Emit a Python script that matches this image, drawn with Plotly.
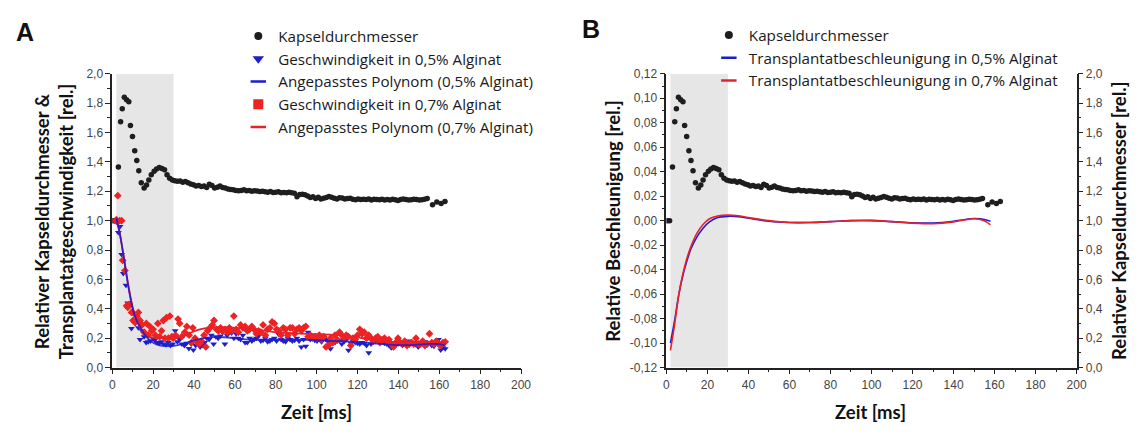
import plotly.graph_objects as go

W, H = 1141, 435

# ---------------- data ----------------
# Kapseldurchmesser (relative capsule diameter)
t_kapsel = [0.5, 1.6, 3.0, 4.1, 4.9, 5.9, 7.0, 8.1, 8.9, 9.9, 11.0, 12.0, 13.0, 14.2, 15.6, 16.8, 17.9, 19.1,
            20.5, 21.7, 23.0, 24.3, 25.6, 26.8, 28.1, 29.4, 30.6, 31.9, 33.2, 34.5, 35.8, 37.1, 38.4, 39.7,
            41.0, 42.3, 43.6, 44.9, 46.2, 47.5, 48.8, 50.1, 51.4, 52.7, 54.0, 55.3, 56.6, 57.9, 59.2, 60.5,
            61.8, 63.1, 64.4, 65.7, 67.0, 68.3, 69.6, 70.9, 72.2, 73.5, 74.8, 76.1, 77.4, 78.7, 80.0, 81.3,
            82.6, 83.9, 85.2, 86.5, 87.8, 89.1, 90.4, 91.7, 93.0, 94.3, 95.6, 96.9, 98.2, 99.5, 100.8, 102.1,
            103.4, 104.7, 106.0, 107.3, 108.6, 109.9, 111.2, 112.5, 113.8, 115.1, 116.4, 117.7, 119.0, 120.3,
            121.6, 122.9, 124.2, 125.5, 126.8, 128.1, 129.4, 130.7, 132.0, 133.3, 134.6, 135.9, 137.2, 138.5,
            139.8, 141.1, 142.4, 143.7, 145.0, 146.3, 147.6, 148.9, 150.2, 151.5, 152.8, 154.1, 156.7, 158.8,
            160.9, 162.8]
d_kapsel = [1.00, 1.00, 1.366, 1.674, 1.762, 1.84, 1.824, 1.81, 1.648, 1.573, 1.476, 1.41, 1.34, 1.258, 1.222,
            1.242, 1.277, 1.312, 1.336, 1.352, 1.362, 1.355, 1.347, 1.312, 1.289, 1.277, 1.272, 1.268, 1.27,
            1.262, 1.266, 1.258, 1.25, 1.244, 1.236, 1.24, 1.232, 1.236, 1.226, 1.248, 1.24, 1.222, 1.228,
            1.236, 1.226, 1.222, 1.216, 1.212, 1.21, 1.206, 1.204, 1.206, 1.21, 1.204, 1.206, 1.2, 1.204,
            1.202, 1.198, 1.2, 1.196, 1.194, 1.198, 1.192, 1.194, 1.196, 1.19, 1.192, 1.19, 1.194, 1.19,
            1.186, 1.162, 1.178, 1.18, 1.176, 1.168, 1.158, 1.162, 1.15, 1.16, 1.148, 1.152, 1.158, 1.164,
            1.16, 1.152, 1.148, 1.156, 1.154, 1.148, 1.15, 1.152, 1.146, 1.142, 1.148, 1.144, 1.146, 1.144,
            1.148, 1.14, 1.146, 1.144, 1.142, 1.146, 1.14, 1.144, 1.14, 1.146, 1.142, 1.138, 1.144, 1.148,
            1.144, 1.14, 1.142, 1.146, 1.144, 1.14, 1.142, 1.146, 1.15, 1.108, 1.127, 1.116, 1.13]

# Geschwindigkeit in 0,5% Alginat
t_v05 = [1.0, 2.2, 3.0, 3.8, 4.6, 5.4, 6.7, 7.6, 8.6, 9.4, 10.2, 11.2, 12.0, 12.8, 13.6, 14.6, 15.6, 16.6,
         17.6, 18.7, 19.8, 20.8, 21.9, 23.0, 24.1, 25.2, 26.3, 27.4, 28.5, 29.6, 30.8, 31.9, 33.0, 34.1, 35.3,
         36.4, 37.5, 38.6, 39.7, 40.8, 41.9, 43.0, 44.1, 45.2, 46.3, 47.4, 48.5, 49.6, 50.7, 51.8, 52.9, 54.0,
         55.1, 56.2, 57.3, 58.4, 59.5, 60.6, 61.7, 62.8, 63.9, 65.0, 66.1, 67.2, 68.3, 69.4, 70.5, 71.6, 72.7,
         73.8, 74.9, 76.0, 77.1, 78.2, 79.3, 80.4, 81.5, 82.6, 83.7, 84.8, 85.9, 87.0, 88.1, 89.2, 90.3, 91.4,
         92.5, 93.6, 94.7, 95.8, 96.9, 98.0, 99.1, 100.2, 101.3, 102.4, 103.5, 104.6, 105.7, 106.8, 107.9,
         109.0, 110.1, 111.2, 112.3, 113.4, 114.5, 115.6, 116.7, 117.8, 118.9, 120.0, 121.1, 122.2, 123.3,
         124.4, 125.5, 126.6, 127.7, 128.8, 129.9, 131.0, 132.1, 133.2, 134.3, 135.4, 136.5, 137.6, 138.7,
         139.8, 140.9, 142.0, 143.1, 144.2, 145.3, 146.4, 147.5, 148.6, 149.7, 150.8, 151.9, 153.0, 154.1,
         155.2, 156.3, 157.4, 158.5, 159.6, 160.7, 161.8, 162.9]
v_v05 = [1.0, 0.99, 0.92, 0.96, 0.77, 0.64, 0.56, 0.44, 0.42, 0.265, 0.37, 0.30, 0.32, 0.27, 0.19, 0.25, 0.21,
         0.17, 0.175, 0.18, 0.20, 0.185, 0.17, 0.165, 0.175, 0.16, 0.155, 0.17, 0.15, 0.16, 0.25, 0.175, 0.19,
         0.16, 0.15, 0.165, 0.13, 0.16, 0.12, 0.15, 0.175, 0.14, 0.15, 0.17, 0.20, 0.19, 0.22, 0.16, 0.21, 0.20,
         0.215, 0.24, 0.16, 0.22, 0.24, 0.235, 0.20, 0.23, 0.20, 0.19, 0.22, 0.17, 0.17, 0.20, 0.18, 0.19, 0.20,
         0.215, 0.18, 0.185, 0.20, 0.175, 0.18, 0.19, 0.20, 0.18, 0.225, 0.19, 0.18, 0.175, 0.20, 0.19, 0.18,
         0.185, 0.20, 0.18, 0.14, 0.19, 0.145, 0.24, 0.19, 0.20, 0.185, 0.18, 0.19, 0.175, 0.20, 0.19, 0.175,
         0.127, 0.165, 0.17, 0.18, 0.185, 0.16, 0.175, 0.19, 0.117, 0.165, 0.18, 0.17, 0.165, 0.16, 0.17,
         0.165, 0.15, 0.10, 0.16, 0.175, 0.18, 0.19, 0.195, 0.175, 0.165, 0.16, 0.15, 0.135, 0.14, 0.155, 0.16,
         0.165, 0.15, 0.165, 0.175, 0.18, 0.165, 0.17, 0.155, 0.14, 0.16, 0.17, 0.175, 0.165, 0.17, 0.15,
         0.145, 0.17, 0.19, 0.119, 0.135, 0.127]

# Geschwindigkeit in 0,7% Alginat
t_v07 = [1.5, 2.2, 2.7, 3.6, 4.6, 5.1, 6.2, 7.0, 7.6, 8.3, 9.4, 10.2, 11.2, 12.0, 12.8, 13.6, 14.6, 15.6, 16.7,
         17.6, 18.4, 19.3, 20.0, 21.1, 22.3, 23.2, 24.1, 25.0, 25.8, 26.6, 27.5, 28.2, 29.2, 29.8, 31.0, 32.2,
         33.0, 34.0, 35.5, 36.5, 37.6, 38.7, 39.4, 40.5, 41.6, 42.7, 43.6, 44.9, 45.8, 46.7, 47.8, 49.0, 49.8,
         51.0, 52.0, 53.0, 54.0, 55.2, 56.3, 57.3, 58.4, 59.5, 60.6, 61.7, 62.8, 63.9, 65.0, 66.1, 67.2, 68.3,
         69.4, 70.5, 71.6, 72.7, 73.8, 74.9, 76.0, 77.1, 78.2, 79.3, 80.4, 81.5, 82.6, 83.7, 84.8, 85.9, 87.0,
         88.1, 89.2, 90.3, 91.4, 92.5, 93.6, 94.7, 95.8, 96.9, 98.0, 99.1, 100.2, 101.3, 102.4, 103.5, 104.6,
         105.7, 106.8, 107.9, 109.0, 110.1, 111.2, 112.3, 113.4, 114.5, 115.6, 116.7, 117.8, 118.9, 120.0,
         121.1, 122.2, 123.3, 124.4, 125.5, 126.6, 127.7, 128.8, 129.9, 131.0, 132.1, 133.2, 134.3, 135.4,
         136.5, 137.6, 138.7, 139.8, 140.9, 142.0, 143.1, 144.2, 145.3, 146.4, 147.5, 148.6, 149.7, 150.8,
         151.9, 153.0, 154.1, 155.2, 156.3, 157.4, 158.5, 159.6, 160.7, 161.8, 162.9]
v_v07 = [1.0, 1.0, 1.17, 1.0, 1.0, 0.73, 0.66, 0.42, 0.41, 0.43, 0.375, 0.32, 0.31, 0.35, 0.375, 0.32, 0.29,
         0.24, 0.30, 0.22, 0.28, 0.25, 0.26, 0.22, 0.30, 0.21, 0.25, 0.32, 0.20, 0.34, 0.20, 0.35, 0.21, 0.20,
         0.22, 0.33, 0.30, 0.21, 0.24, 0.28, 0.22, 0.17, 0.27, 0.20, 0.17, 0.16, 0.18, 0.22, 0.14, 0.25, 0.27,
         0.29, 0.32, 0.26, 0.25, 0.27, 0.25, 0.26, 0.24, 0.27, 0.25, 0.35, 0.26, 0.24, 0.29, 0.27, 0.28, 0.25,
         0.26, 0.28, 0.26, 0.23, 0.25, 0.24, 0.29, 0.22, 0.26, 0.27, 0.31, 0.30, 0.26, 0.25, 0.22, 0.27, 0.26,
         0.22, 0.27, 0.27, 0.23, 0.26, 0.27, 0.25, 0.27, 0.28, 0.21, 0.22, 0.20, 0.21, 0.20, 0.22, 0.19, 0.21,
         0.14, 0.15, 0.20, 0.17, 0.22, 0.19, 0.24, 0.22, 0.20, 0.22, 0.21, 0.15, 0.20, 0.19, 0.22, 0.26, 0.23,
         0.24, 0.20, 0.22, 0.20, 0.18, 0.20, 0.21, 0.17, 0.19, 0.20, 0.18, 0.19, 0.16, 0.14, 0.17, 0.20, 0.17,
         0.16, 0.18, 0.15, 0.16, 0.17, 0.16, 0.20, 0.16, 0.16, 0.18, 0.15, 0.16, 0.23, 0.17, 0.16, 0.18, 0.16,
         0.15, 0.17, 0.175]

# Angepasstes Polynom (fit curves, read at knots)
t_fit05 = [2, 4, 6, 8, 10, 12, 14, 16, 19, 22, 26, 30, 35, 40, 45, 50, 55, 60, 65, 70, 80, 90, 100, 110, 120,
           130, 140, 145, 150, 155, 160, 163]
p_fit05 = [1.02, 0.89, 0.72, 0.54, 0.40, 0.32, 0.268, 0.222, 0.178, 0.156, 0.146, 0.147, 0.162, 0.185, 0.200,
           0.207, 0.206, 0.199, 0.192, 0.189, 0.189, 0.189, 0.186, 0.180, 0.173, 0.162, 0.152, 0.152, 0.156,
           0.161, 0.159, 0.150]
t_fit07 = [2, 4, 6, 8, 10, 12, 14, 16, 19, 22, 26, 30, 34, 38, 42, 46, 50, 55, 60, 65, 70, 80, 90, 100, 110,
           115, 120, 127, 133, 140, 150, 157, 163]
p_fit07 = [1.03, 0.89, 0.72, 0.55, 0.41, 0.32, 0.26, 0.225, 0.205, 0.200, 0.200, 0.200, 0.210, 0.235, 0.256,
           0.268, 0.273, 0.274, 0.270, 0.265, 0.260, 0.240, 0.232, 0.228, 0.222, 0.216, 0.205, 0.189, 0.178,
           0.172, 0.172, 0.172, 0.165]

# Transplantatbeschleunigung (panel B)
t_acc = [2, 4, 6, 8, 10, 12, 15, 18, 21, 25, 30, 35, 40, 50, 60, 70, 80, 90, 100, 110, 120, 130, 140, 145,
         150, 153, 156, 158]
a_acc05 = [-0.100, -0.082, -0.061, -0.045, -0.033, -0.023, -0.013, -0.006, -0.001, 0.0025, 0.0035, 0.0032,
           0.002, -0.0005, -0.0015, -0.0015, -0.0008, 0.000, 0.000, -0.0008, -0.0018, -0.0020, -0.0005, 0.0008,
           0.0018, 0.0015, 0.0005, -0.0005]
a_acc07 = [-0.106, -0.085, -0.061, -0.044, -0.031, -0.021, -0.010, -0.003, 0.0015, 0.0038, 0.0045, 0.004,
           0.0025, 0.000, -0.0015, -0.0015, -0.0008, 0.000, 0.0002, -0.0008, -0.0020, -0.0025, -0.0010, 0.0005,
           0.0015, 0.0010, -0.0010, -0.0035]

shade_range = [2, 30]
x_ticks = [0, 20, 40, 60, 80, 100, 120, 140, 160, 180, 200]
yA_ticks = [0.0, 0.2, 0.4, 0.6, 0.8, 1.0, 1.2, 1.4, 1.6, 1.8, 2.0]
yB_ticks = [-0.12, -0.10, -0.08, -0.06, -0.04, -0.02, 0.0, 0.02, 0.04, 0.06, 0.08, 0.10, 0.12]

# ---------------- styling ----------------
BLACK = "#1e1e1e"
BLUE_M = "#1f1fc8"
RED_M = "#ee2222"
BLUE_L = "#1c1cd0"
RED_L = "#e8202a"
TXT = "Lato"
LEGF = dict(family="Open Sans", size=15.2, color="#1a1a1a")
TICKF = dict(family="Liberation Sans, Arial", size=12, color="#444444")


def comma(vals, nd):
    return [f"{v:.{nd}f}".replace(".", ",") for v in vals]


fig = go.Figure()

# Panel A data
fig.add_trace(go.Scatter(x=t_kapsel, y=d_kapsel, mode="markers", xaxis="x", yaxis="y", showlegend=False,
                         marker=dict(symbol="circle", size=5.5, color=BLACK)))
fig.add_trace(go.Scatter(x=t_v05, y=v_v05, mode="markers", xaxis="x", yaxis="y", showlegend=False,
                         marker=dict(symbol="triangle-down", size=6, color=BLUE_M)))
fig.add_trace(go.Scatter(x=t_v07, y=v_v07, mode="markers", xaxis="x", yaxis="y", showlegend=False,
                         marker=dict(symbol="diamond", size=6, color=RED_M)))
fig.add_trace(go.Scatter(x=t_fit07, y=p_fit07, mode="lines", xaxis="x", yaxis="y", showlegend=False,
                         line=dict(color=RED_L, width=1.8, shape="spline", smoothing=0.8)))
fig.add_trace(go.Scatter(x=t_fit05, y=p_fit05, mode="lines", xaxis="x", yaxis="y", showlegend=False,
                         line=dict(color=BLUE_L, width=1.8, shape="spline", smoothing=0.8), opacity=0.85))

# Panel B data
fig.add_trace(go.Scatter(x=t_kapsel, y=d_kapsel, mode="markers", xaxis="x2", yaxis="y3", showlegend=False,
                         marker=dict(symbol="circle", size=5.5, color=BLACK)))
fig.add_trace(go.Scatter(x=t_acc, y=a_acc05, mode="lines", xaxis="x2", yaxis="y2", showlegend=False,
                         line=dict(color=BLUE_L, width=1.6, shape="spline", smoothing=0.8)))
fig.add_trace(go.Scatter(x=t_acc, y=a_acc07, mode="lines", xaxis="x2", yaxis="y2", showlegend=False,
                         line=dict(color=RED_L, width=1.6, shape="spline", smoothing=0.8)))

# Legend entries (legend-only traces)
def leg(name, legend, xa, ya, **marker):
    fig.add_trace(go.Scatter(x=[None], y=[None], mode="markers", name=name, legend=legend,
                             xaxis=xa, yaxis=ya, marker=marker, showlegend=True))

leg("Kapseldurchmesser", "legend", "x", "y", symbol="circle", size=8, color=BLACK)
leg("Geschwindigkeit in 0,5% Alginat", "legend", "x", "y", symbol="triangle-down", size=10, color=BLUE_M)
leg("Angepasstes Polynom (0,5% Alginat)", "legend", "x", "y", symbol="line-ew", size=11,
    line=dict(color=BLUE_L, width=2.5))
leg("Geschwindigkeit in 0,7% Alginat", "legend", "x", "y", symbol="square", size=10, color=RED_M)
leg("Angepasstes Polynom (0,7% Alginat)", "legend", "x", "y", symbol="line-ew", size=11,
    line=dict(color=RED_L, width=2.5))

leg("Kapseldurchmesser", "legend2", "x2", "y2", symbol="circle", size=8, color=BLACK)
leg("Transplantatbeschleunigung in 0,5% Alginat", "legend2", "x2", "y2", symbol="line-ew", size=11,
    line=dict(color=BLUE_L, width=2.5))
leg("Transplantatbeschleunigung in 0,7% Alginat", "legend2", "x2", "y2", symbol="line-ew", size=11,
    line=dict(color=RED_L, width=2.5))

def px_x(p):
    return p / W

def px_y(p):
    return 1 - p / H

yA_dom = [px_y(372.5), px_y(69)]
axis_common = dict(showline=True, linecolor="#222222", linewidth=1.5, ticks="outside", ticklen=5,
                   tickwidth=1.2, tickcolor="#222222", tickfont=TICKF, showgrid=False, zeroline=False,
                   mirror=False)
minor_x = dict(tickmode="linear", tick0=0, dtick=10, ticks="outside", ticklen=3, tickcolor="#222222",
               tickwidth=1.1, showgrid=False)

fig.update_layout(
    width=W, height=H, autosize=False,
    margin=dict(l=0, r=0, t=0, b=0),
    paper_bgcolor="white", plot_bgcolor="white",
    xaxis=dict(domain=[px_x(110.5), px_x(524)], range=[0, 200], anchor="y",
               tickmode="array", tickvals=x_ticks, ticktext=[str(v) for v in x_ticks],
               minor=minor_x, **axis_common),
    yaxis=dict(domain=yA_dom, range=[0, 2.0], anchor="x",
               tickmode="array", tickvals=yA_ticks, ticktext=comma(yA_ticks, 1),
               minor=dict(tickmode="linear", tick0=0, dtick=0.1, ticks="outside", ticklen=3,
                          tickcolor="#222222", tickwidth=1.1, showgrid=False), **axis_common),
    xaxis2=dict(domain=[px_x(671), px_x(1086)], range=[0, 200], anchor="y2",
                tickmode="array", tickvals=x_ticks, ticktext=[str(v) for v in x_ticks],
                minor=minor_x, **axis_common),
    yaxis2=dict(domain=yA_dom, range=[-0.12, 0.12], anchor="x2",
                tickmode="array", tickvals=yB_ticks, ticktext=comma(yB_ticks, 2),
                minor=dict(tickmode="linear", tick0=0, dtick=0.01, ticks="outside", ticklen=3,
                           tickcolor="#222222", tickwidth=1.1, showgrid=False), **axis_common),
    yaxis3=dict(range=[0, 2.0], anchor="x2", overlaying="y2", side="right",
                tickmode="array", tickvals=yA_ticks, ticktext=comma(yA_ticks, 1),
                minor=dict(tickmode="linear", tick0=0, dtick=0.1, ticks="outside", ticklen=3,
                           tickcolor="#222222", tickwidth=1.1, showgrid=False), **axis_common),
    legend=dict(x=px_x(238), y=px_y(13), xanchor="left", yanchor="top", bgcolor="rgba(0,0,0,0)",
                font=LEGF, tracegroupgap=0, itemwidth=30),
    legend2=dict(x=px_x(714), y=px_y(12), xanchor="left", yanchor="top", bgcolor="rgba(0,0,0,0)",
                 font=LEGF, tracegroupgap=0, itemwidth=30),
    shapes=[
        dict(type="rect", xref="x", yref="y", x0=shade_range[0], x1=shade_range[1], y0=0, y1=2.0,
             fillcolor="#e6e6e6", line=dict(width=0), layer="below"),
        dict(type="rect", xref="x2", yref="y2", x0=shade_range[0], x1=shade_range[1], y0=-0.12, y1=0.12,
             fillcolor="#e6e6e6", line=dict(width=0), layer="below"),
    ],
)

ann_font = dict(family=TXT, size=18.5, color="#111111")
annotations = [
    dict(text="<b>A</b>", x=px_x(22), y=px_y(26), font=dict(family="Liberation Sans, Arial", size=25, color="#111111")),
    dict(text="<b>B</b>", x=px_x(595), y=px_y(23), font=dict(family="Liberation Sans, Arial", size=25, color="#111111")),
    dict(text="<b>Relativer Kapseldurchmesser &amp;<br>Transplantatgeschwindigkeit [rel.]</b>", x=px_x(51),
         y=px_y(221), textangle=-90, font=ann_font),
    dict(text="<b>Zeit [ms]</b>", x=px_x(317), y=px_y(418), font=ann_font),
    dict(text="<b>Relative Beschleunigung [rel.]</b>", x=px_x(617), y=px_y(221), textangle=-90, font=ann_font),
    dict(text="<b>Relativer Kapseldurchmesser [rel.]</b>", x=px_x(1129), y=px_y(221), textangle=-90,
         font=ann_font),
    dict(text="<b>Zeit [ms]</b>", x=px_x(878), y=px_y(418), font=ann_font),
]
for a in annotations:
    a.update(xref="paper", yref="paper", xanchor="center", yanchor="middle", showarrow=False)
fig.update_layout(annotations=annotations)

fig.write_html("out.html")
